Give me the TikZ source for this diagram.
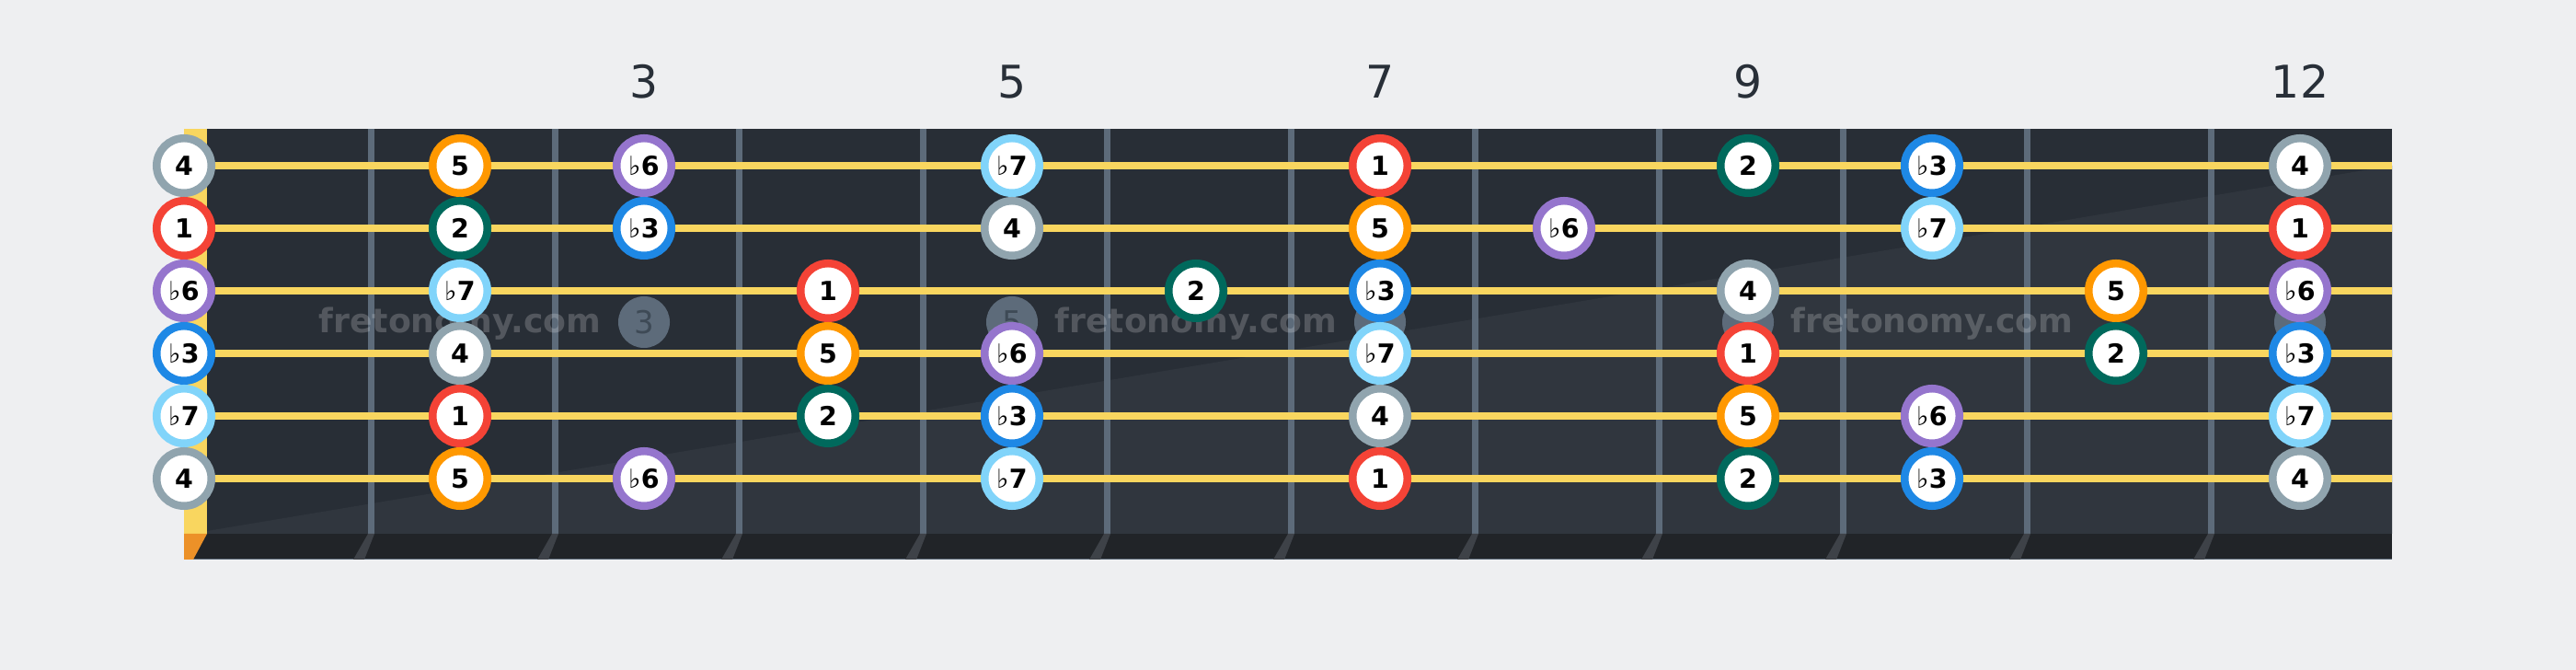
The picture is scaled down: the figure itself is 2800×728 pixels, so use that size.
\documentclass[tikz,border=0pt]{standalone}
\usepackage{fontspec}
\setmainfont{DejaVu Sans}
\definecolor{bgcol}{RGB}{238,239,241}
\definecolor{boardtop}{RGB}{40,46,54}
\definecolor{boardlow}{RGB}{48,54,62}
\definecolor{boardedge}{RGB}{33,36,40}
\definecolor{fretcol}{RGB}{93,107,122}
\definecolor{fretshade}{RGB}{62,66,72}
\definecolor{stringcol}{RGB}{249,214,95}
\definecolor{nutbase}{RGB}{236,145,40}
\definecolor{labelcol}{RGB}{40,47,56}
\definecolor{dotnum}{RGB}{62,74,86}
\definecolor{cone}{RGB}{244,67,54}
\definecolor{ctwo}{RGB}{0,105,92}
\definecolor{cthree}{RGB}{30,136,229}
\definecolor{cfour}{RGB}{144,164,174}
\definecolor{cfive}{RGB}{255,152,0}
\definecolor{csix}{RGB}{149,117,205}
\definecolor{cseven}{RGB}{129,212,250}
\newcommand{\fl}[1]{{\mdseries ♭}#1}

\begin{document}
\begin{tikzpicture}[x=0.01cm,y=-0.01cm,
    note/.style={circle,draw=#1,fill=white,line width=0.085cm,minimum size=0.595cm,
      inner sep=0pt,text=black,font=\fontsize{8.1}{8.1}\selectfont\bfseries},
    fretnum/.style={anchor=base,text=labelcol,font=\fontsize{13.9}{14}\selectfont},
    marker/.style={circle,fill=fretcol,minimum size=0.56cm,inner sep=0pt,
      text=dotnum,font=\fontsize{9.7}{10}\selectfont},
    watermark/.style={anchor=base,text=white,text opacity=0.2,
      font=\fontsize{10.3}{11}\selectfont\bfseries}]
    \fill[bgcol] (0,0) rectangle (2800,728);
    \useasboundingbox (0,0) rectangle (2800,728);
    % board
    \fill[boardtop] (225,140) rectangle (2600,580);
    \fill[boardlow] (225,577) -- (2600,180) -- (2600,580) -- (225,580) -- cycle;
    \fill[boardedge] (200,580) rectangle (2600,608);
    \draw[fretcol,line width=0.01cm] (200,608) -- (2600,608);
    \fill[stringcol] (200,140) rectangle (225,580);
    \fill[nutbase] (200,580) -- (225,580) -- (210,608) -- (200,608) -- cycle;
    \foreach \n in {1,...,11} {
        \fill[fretcol] (200*\n+200,140) rectangle (200*\n+207,580);
        \fill[fretshade] (200*\n+200,580) -- (200*\n+207,580) -- (200*\n+196,608) -- (200*\n+184,608) -- cycle;
    }
    \foreach \s in {1,...,6}
        \draw[stringcol,line width=0.077cm] (200,112+68*\s) -- (2600,112+68*\s);
    % fret numbers and markers
    \foreach \f/\t in {3/3,5/5,7/7,9/9,12/12}
        \node[fretnum] (num\f) at (200*\f+100,107) {\t};
    \node[marker] (dot3) at (700,350) {3};
    \node[marker] (dot5) at (1100,350) {5};
    \node[marker] (dot7) at (1500,350) {};
    \node[marker] (dot9) at (1900,350) {};
    \node[marker] (dot12) at (2500,350) {};
    \foreach \x in {500,1300,2100}
        \node[watermark] (wm\x) at (\x,362) {fretonomy.com};
    % notes
    \foreach \s/\f/\l/\c in {
        1/0/4/cfour, 1/2/5/cfive, 1/3/\fl6/csix, 1/5/\fl7/cseven, 1/7/1/cone, 1/9/2/ctwo, 1/10/\fl3/cthree, 1/12/4/cfour,
        2/0/1/cone, 2/2/2/ctwo, 2/3/\fl3/cthree, 2/5/4/cfour, 2/7/5/cfive, 2/8/\fl6/csix, 2/10/\fl7/cseven, 2/12/1/cone,
        3/0/\fl6/csix, 3/2/\fl7/cseven, 3/4/1/cone, 3/6/2/ctwo, 3/7/\fl3/cthree, 3/9/4/cfour, 3/11/5/cfive, 3/12/\fl6/csix,
        4/0/\fl3/cthree, 4/2/4/cfour, 4/4/5/cfive, 4/5/\fl6/csix, 4/7/\fl7/cseven, 4/9/1/cone, 4/11/2/ctwo, 4/12/\fl3/cthree,
        5/0/\fl7/cseven, 5/2/1/cone, 5/4/2/ctwo, 5/5/\fl3/cthree, 5/7/4/cfour, 5/9/5/cfive, 5/10/\fl6/csix, 5/12/\fl7/cseven,
        6/0/4/cfour, 6/2/5/cfive, 6/3/\fl6/csix, 6/5/\fl7/cseven, 6/7/1/cone, 6/9/2/ctwo, 6/10/\fl3/cthree, 6/12/4/cfour} {
        \pgfmathtruncatemacro\xx{\f==0 ? 200 : 200*\f+100}
        \node[note=\c] (n\s-\f) at (\xx,112+68*\s) {\l};
    }
\end{tikzpicture}
\end{document}
